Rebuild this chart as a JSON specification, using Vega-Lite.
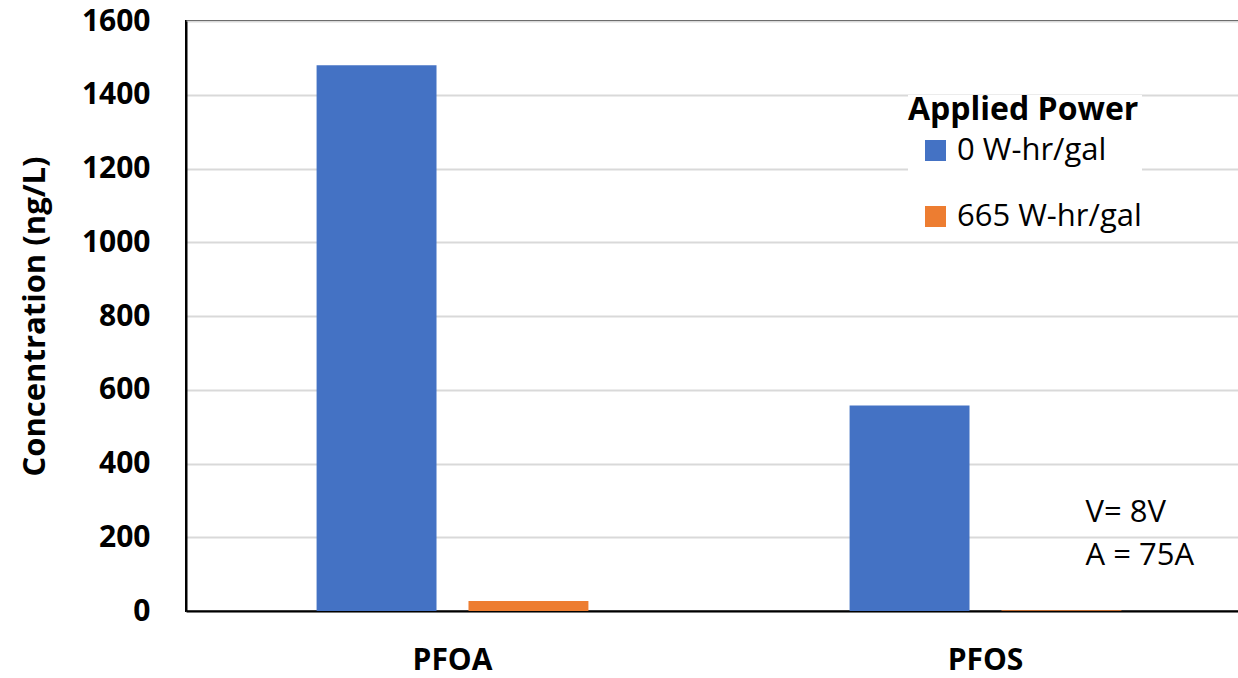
{
  "$schema": "https://vega.github.io/schema/vega-lite/v6.json",
  "autosize": {"type": "none"},
  "padding": {"left": 186, "top": 21, "right": 0, "bottom": 67},
  "width": 1066,
  "height": 590,
  "background": "white",
  "config": {
    "font": "Open Sans",
    "view": {"stroke": "black", "strokeWidth": 2}
  },
  "datasets": {
    "bars": [
      {"compound": "PFOA", "power": "0 W-hr/gal", "conc": 1480},
      {"compound": "PFOA", "power": "665 W-hr/gal", "conc": 27},
      {"compound": "PFOS", "power": "0 W-hr/gal", "conc": 557},
      {"compound": "PFOS", "power": "665 W-hr/gal", "conc": 2}
    ],
    "notes": [
      {"compound": "PFOS", "note": "V= 8V", "conc": 266},
      {"compound": "PFOS", "note": "A = 75A", "conc": 149}
    ]
  },
  "layer": [
    {
      "data": {"name": "bars"},
      "mark": {"type": "bar"},
      "encoding": {
        "x": {
          "field": "compound",
          "type": "nominal",
          "sort": ["PFOA", "PFOS"],
          "scale": {"paddingInner": 0.49, "paddingOuter": 0.245},
          "axis": {
            "title": null,
            "labelAngle": 0,
            "labelFont": "Open Sans",
            "labelFontWeight": "bold",
            "labelFontSize": 30,
            "labelColor": "black",
            "labelPadding": 34,
            "ticks": false,
            "domainColor": "black",
            "domainWidth": 2
          }
        },
        "xOffset": {
          "field": "power",
          "type": "nominal",
          "scale": {"paddingInner": 0.2105, "paddingOuter": 0}
        },
        "y": {
          "field": "conc",
          "type": "quantitative",
          "scale": {"domain": [0, 1600], "nice": false},
          "axis": {
            "title": "Concentration (ng/L)",
            "titleFont": "Open Sans",
            "titleFontWeight": "bold",
            "titleFontSize": 31,
            "titleColor": "black",
            "titlePadding": 30,
            "values": [0, 200, 400, 600, 800, 1000, 1200, 1400, 1600],
            "format": "d",
            "labelFont": "Open Sans",
            "labelFontWeight": "bold",
            "labelFontSize": 30,
            "labelColor": "black",
            "labelPadding": 36,
            "labelBound": false,
            "labelFlush": false,
            "ticks": false,
            "domainColor": "black",
            "domainWidth": 2,
            "gridColor": "#d9d9d9",
            "gridWidth": 2
          }
        },
        "color": {
          "field": "power",
          "type": "nominal",
          "scale": {
            "domain": ["0 W-hr/gal", "665 W-hr/gal"],
            "range": ["#4472C4", "#ED7D31"]
          },
          "legend": {
            "title": "Applied Power",
            "orient": "none",
            "legendX": 722,
            "legendY": 74,
            "titleFont": "Open Sans",
            "titleFontWeight": "bold",
            "titleFontSize": 32,
            "titleColor": "black",
            "titleLimit": 0,
            "titlePadding": 8,
            "labelFont": "Open Sans",
            "labelFontSize": 31,
            "labelColor": "black",
            "labelLimit": 0,
            "labelOffset": 6,
            "symbolType": "square",
            "symbolSize": 441,
            "symbolOffset": 12,
            "symbolStrokeWidth": 0,
            "symbolOpacity": 1,
            "rowPadding": 34,
            "fillColor": "white",
            "padding": 0,
            "offset": 0
          }
        }
      }
    },
    {
      "data": {"name": "notes"},
      "mark": {
        "type": "text",
        "align": "left",
        "baseline": "middle",
        "font": "Open Sans",
        "fontSize": 31,
        "color": "black",
        "dx": 100
      },
      "encoding": {
        "x": {"field": "compound", "type": "nominal"},
        "y": {"field": "conc", "type": "quantitative"},
        "text": {"field": "note"}
      }
    }
  ]
}
